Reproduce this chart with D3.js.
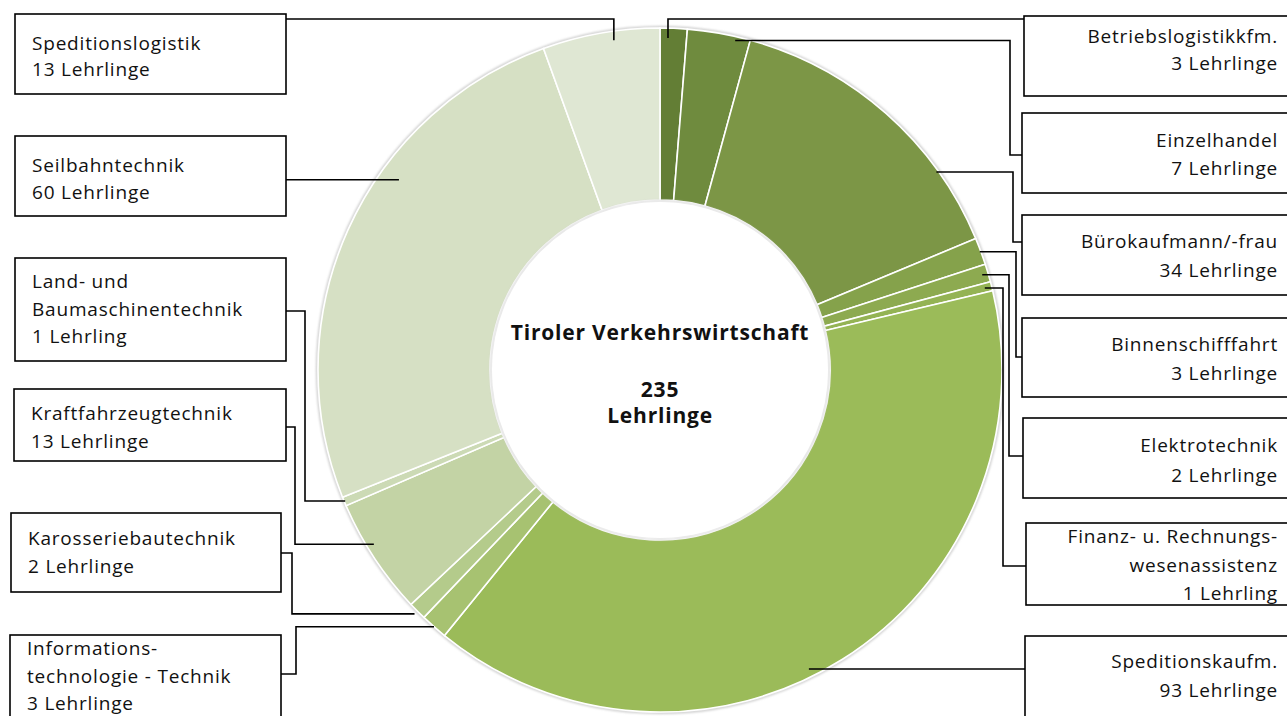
<!DOCTYPE html>
<html>
<head>
<meta charset="utf-8">
<script src="https://cdn.jsdelivr.net/npm/d3@7"></script>
<style>
  body { margin: 0; background: #fff; }
  svg { display: block; }
</style>
</head>
<body>
<script>
// Lehrberufe, im Uhrzeigersinn ab 12 Uhr
const berufe = [
  ["Betriebslogistikkfm."],
  ["Einzelhandel"],
  ["Bürokaufmann/-frau"],
  ["Binnenschifffahrt"],
  ["Elektrotechnik"],
  ["Finanz- u. Rechnungs-", "wesenassistenz"],
  ["Speditionskaufm."],
  ["Informations-", "technologie - Technik"],
  ["Karosseriebautechnik"],
  ["Kraftfahrzeugtechnik"],
  ["Land- und", "Baumaschinentechnik"],
  ["Seilbahntechnik"],
  ["Speditionslogistik"]
];
const lehrlinge = [3, 7, 34, 3, 2, 1, 93, 3, 2, 13, 1, 60, 13];
const farben = ["#637e35", "#6f8b3e", "#7c9646", "#85a24b", "#8daa50", "#94b354", "#9bbb59",
                "#a7c271", "#b4cb8b", "#c3d3a5", "#ccdab5", "#d6e0c4", "#dfe7d3"];
const titel = "Tiroler Verkehrswirtschaft";

// Lage der Beschriftungskästen (x, y, w, h, erste Grundlinie, Zeilenabstand,
// Anschluss-y, Knick-x, Ankerposition im Segment, Ankerradius)
const kaesten = [
  {side: "R", x: 1024, y: 16,  w: 270, h: 80,  b: 43,  lh: 27,   cy: 19,   ex: null, f: 0.3,  r: 332},
  {side: "R", x: 1022, y: 113, w: 272, h: 80,  b: 147, lh: 28,   cy: 155,  ex: 1010, f: 0.77, r: 338},
  {side: "R", x: 1022, y: 215, w: 272, h: 80,  b: 248, lh: 29,   cy: 242,  ex: 1013, f: 0.75, r: 340},
  {side: "R", x: 1022, y: 318, w: 272, h: 79,  b: 351, lh: 29,   cy: 357,  ex: 1016, f: 0.5,  r: 341},
  {side: "R", x: 1023, y: 418, w: 271, h: 80,  b: 452, lh: 30,   cy: 456,  ex: 1009, f: 0.5,  r: 336},
  {side: "R", x: 1026, y: 523, w: 268, h: 82,  b: 543, lh: 28.5, cy: 566,  ex: 1003, f: 0.5,  r: 335},
  {side: "R", x: 1025, y: 636, w: 269, h: 90,  b: 668, lh: 29,   cy: null, ex: null, f: 0.54, r: 334},
  {side: "L", x: 10,   y: 635, w: 271, h: 90,  b: 655, lh: 27.5, cy: 674,  ex: 296,  f: 0.5,  r: 342},
  {side: "L", x: 11,   y: 513, w: 270, h: 79,  b: 545, lh: 28,   cy: 553,  ex: 292,  f: 0.5,  r: 346},
  {side: "L", x: 14,   y: 389, w: 272, h: 72,  b: 420, lh: 28,   cy: 427,  ex: 295,  f: 0.6,  r: 335},
  {side: "L", x: 15,   y: 258, w: 271, h: 103, b: 288, lh: 27.5, cy: 311,  ex: 305,  f: 0.5,  r: 341},
  {side: "L", x: 15,   y: 136, w: 271, h: 80,  b: 172, lh: 27,   cy: null, ex: null, f: 0.63, r: 323},
  {side: "L", x: 15,   y: 14,  w: 271, h: 80,  b: 50,  lh: 26,   cy: 19,   ex: null, f: 0.6,  r: 333}
];

const width = 1287, height = 716;
const cx = 660, cy = 370, outerR = 342, innerR = 170;
const schrift = "'Open Sans', 'Noto Sans', sans-serif";

const svg = d3.select("body").append("svg")
  .attr("width", width)
  .attr("height", height);

const defs = svg.append("defs");
defs.append("filter").attr("id", "soft")
  .append("feGaussianBlur").attr("stdDeviation", 1);

const g = svg.append("g").attr("transform", `translate(${cx},${cy})`);

const pie = d3.pie().sort(null).value(d => d);
const arcs = pie(lehrlinge);
const arc = d3.arc().innerRadius(innerR).outerRadius(outerR);

// leichter Schatten am Rand
g.append("circle").attr("r", outerR + 1)
  .attr("fill", "none").attr("stroke", "#c8c8c8").attr("stroke-width", 2)
  .attr("filter", "url(#soft)");

g.selectAll("path.slice")
  .data(arcs)
  .enter()
  .append("path")
  .attr("class", "slice")
  .attr("d", arc)
  .attr("fill", (d, i) => farben[i])
  .attr("stroke", "#fff")
  .attr("stroke-width", 1.6);

g.append("circle").attr("r", innerR - 1)
  .attr("fill", "#fff").attr("stroke", "#cfcfcf").attr("stroke-width", 1.5)
  .attr("filter", "url(#soft)");
g.append("circle").attr("r", innerR - 2).attr("fill", "#fff");

// Mitte
const mitte = g.append("g")
  .attr("font-family", schrift)
  .attr("font-weight", "bold")
  .attr("font-size", 21)
  .attr("letter-spacing", 0.8)
  .attr("text-anchor", "middle")
  .attr("fill", "#111");
mitte.append("text").attr("y", -30).text(titel);
mitte.append("text").attr("y", 27).text(d3.sum(lehrlinge));
mitte.append("text").attr("y", 53).text("Lehrlinge");

// Führungslinien
const line = d3.line();
const leader = svg.append("g")
  .attr("fill", "none")
  .attr("stroke", "#000")
  .attr("stroke-width", 1.6);

arcs.forEach((a, i) => {
  const k = kaesten[i];
  const ang = a.startAngle + (a.endAngle - a.startAngle) * k.f;
  const [px, py] = d3.pointRadial(ang, k.r);
  const sx = cx + px, sy = cy + py;
  const ex = k.ex == null ? sx : k.ex;
  const by = k.cy == null ? sy : k.cy;
  const edge = k.side === "R" ? k.x : k.x + k.w;
  leader.append("path")
    .attr("d", line([[sx, sy], [ex, sy], [ex, by], [edge, by]]));
});

// Kästen
const box = svg.selectAll("g.box")
  .data(kaesten)
  .enter()
  .append("g")
  .attr("class", "box");

box.append("rect")
  .attr("x", d => d.x)
  .attr("y", d => d.y)
  .attr("width", d => d.w)
  .attr("height", d => d.h)
  .attr("fill", "#fff")
  .attr("stroke", "#000")
  .attr("stroke-width", 1.6);

box.each(function (k, i) {
  const zeilen = berufe[i].concat(
    lehrlinge[i] + (lehrlinge[i] === 1 ? " Lehrling" : " Lehrlinge"));
  const t = d3.select(this).append("text")
    .attr("font-family", schrift)
    .attr("font-size", 19)
    .attr("letter-spacing", 0.8)
    .attr("fill", "#111")
    .attr("text-anchor", k.side === "R" ? "end" : "start");
  zeilen.forEach((z, j) => {
    t.append("tspan")
      .attr("x", k.side === "R" ? 1278 : k.x + 17)
      .attr("y", k.b + j * k.lh)
      .text(z);
  });
});
</script>
</body>
</html>
